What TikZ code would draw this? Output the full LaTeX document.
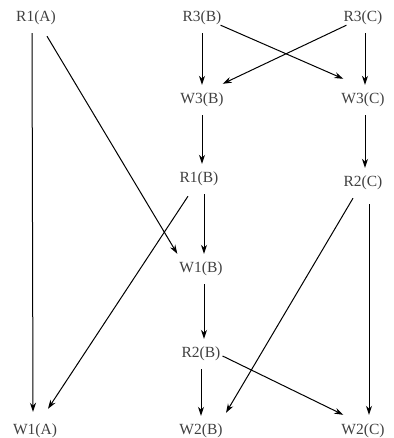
\documentclass[tikz,border=0pt]{standalone}
\usepackage{fontspec}
\setmainfont{Liberation Serif}
\usetikzlibrary{arrows.meta,calc}
\begin{document}
\begin{tikzpicture}[x=1pt,y=-1pt,
  lbl/.style={font=\fontsize{15.5}{18}\selectfont, text=black!75, inner xsep=2pt, inner ysep=0pt, minimum height=30pt},
  edge/.style={line width=1pt, -{Stealth[length=9pt,width=6pt]}}]
\useasboundingbox (0,0) rectangle (393,438);
\node[lbl] (r1a) at (36,18) {R1(A)};
\node[lbl] (r3b) at (202,18) {R3(B)};
\node[lbl] (r3c) at (363,18) {R3(C)};
\node[lbl] (w3b) at (202,100) {W3(B)};
\node[lbl] (w3c) at (363,100) {W3(C)};
\node[lbl] (r1b) at (199,179) {R1(B)};
\node[lbl] (r2c) at (363,183) {R2(C)};
\node[lbl] (w1b) at (201,269) {W1(B)};
\node[lbl] (r2b) at (201,354) {R2(B)};
\node[lbl] (w1a) at (35,431) {W1(A)};
\node[lbl] (w2b) at (201,431) {W2(B)};
\node[lbl] (w2c) at (363,431) {W2(C)};
% edges
\draw[edge] ($(r1a.south)+(-4,0)$) -- ($(w1a.north)+(-2,-4)$);
\draw[edge] ($(r1a.south)+(11,3)$) -- ($(w1b.north west)+(0,0)$);
\draw[edge] (r3b.south) -- (w3b.north);
\draw[edge] ($(r3b.south east)+(-3,-8)$) -- ($(w3c.north west)+(4,-6)$);
\draw[edge] ($(r3c.south west)+(5,-8)$) -- ($(w3b.north east)+(-3,-1)$);
\draw[edge] ($(r3c.south)+(2,0)$) -- ($(w3c.north)+(2,0)$);
\draw[edge] (w3b.south) -- ($(r1b.north)+(3,0)$);
\draw[edge] ($(w3c.south)+(2,0)$) -- ($(r2c.north)+(2,0)$);
\draw[edge] ($(r1b.south)+(-11,2)$) -- ($(w1a.north)+(13,-7)$);
\draw[edge] ($(r1b.south)+(5,0)$) -- ($(w1b.north)+(3,0)$);
\draw[edge] ($(w1b.south)+(3,0)$) -- ($(r2b.north)+(3,0)$);
\draw[edge] ($(r2c.south)+(-10,0)$) -- ($(w2b.north)+(25,-3)$);
\draw[edge] ($(r2c.south)+(6,6)$) -- ($(w2c.north)+(6,-1)$);
\draw[edge] (r2b.south) -- (w2b.north);
\draw[edge] ($(r2b.east)+(0,2)$) -- ($(w2c.north west)+(4,-1)$);
\end{tikzpicture}
\end{document}
